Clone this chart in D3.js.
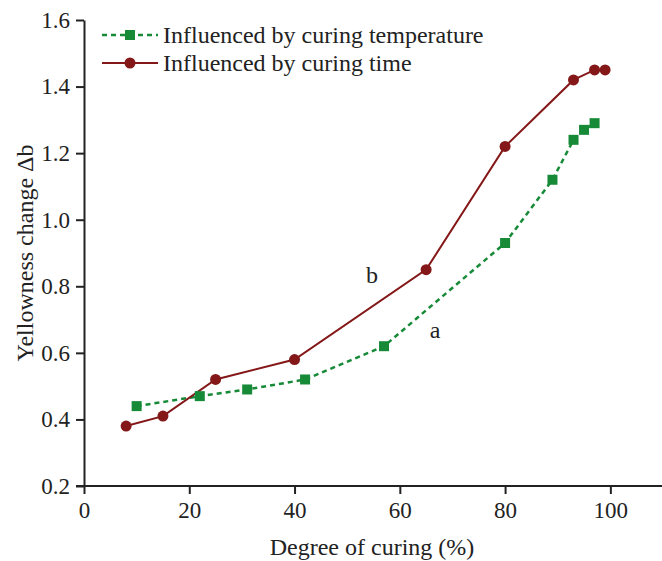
<!DOCTYPE html>
<html>
<head>
<meta charset="utf-8">
<script src="https://cdn.jsdelivr.net/npm/d3@7"></script>
<style>
  body { margin: 0; background: #fff; }
  svg text { font-family: "Liberation Serif", "Times New Roman", serif; fill: #222; }
</style>
</head>
<body>
<div id="container"></div>
<script>
/* CONSTANTS AND GLOBALS */
const width = 662;
const height = 561;
const serif = "'Liberation Serif', 'Times New Roman', serif";

/* DATA */
// Influenced by curing temperature (a)
const tempX = [10, 22, 31, 42, 57, 80, 89, 93, 95, 97];
const tempY = [0.44, 0.47, 0.49, 0.52, 0.62, 0.93, 1.12, 1.24, 1.27, 1.29];
// Influenced by curing time (b)
const timeX = [8, 15, 25, 40, 65, 80, 93, 97, 99];
const timeY = [0.38, 0.41, 0.52, 0.58, 0.85, 1.22, 1.42, 1.45, 1.45];

const xTicks = [0, 20, 40, 60, 80, 100];
const yTicks = [0.2, 0.4, 0.6, 0.8, 1.0, 1.2, 1.4, 1.6];
const seriesNames = ["Influenced by curing temperature", "Influenced by curing time"];

const green = "#178a38";
const red = "#841818";

const tempData = tempX.map((x, i) => ({x: x, y: tempY[i]}));
const timeData = timeX.map((x, i) => ({x: x, y: timeY[i]}));

/* SCALES */
const xScale = d3.scaleLinear()
  .domain([0, 110])
  .range([84, 663]);

const yScale = d3.scaleLinear()
  .domain([0.2, 1.6])
  .range([486, 20]);

/* SVG */
const svg = d3.select("#container")
  .append("svg")
  .attr("width", width)
  .attr("height", height);

// axes
const xAxisGroup = svg.append("g")
  .attr("transform", `translate(0,${yScale(0.2)})`)
  .call(d3.axisBottom(xScale).tickValues(xTicks).tickSize(8).tickPadding(8).tickSizeOuter(0));

const yAxisGroup = svg.append("g")
  .attr("transform", `translate(${xScale(0)},0)`)
  .call(d3.axisLeft(yScale).tickValues(yTicks).tickFormat(d3.format(".1f")).tickSize(8).tickPadding(6).tickSizeOuter(0));

[xAxisGroup, yAxisGroup].forEach(g => {
  g.attr("font-family", serif).attr("font-size", 23);
  g.select(".domain").attr("stroke", "#222").attr("stroke-width", 2);
  g.selectAll(".tick line").attr("stroke", "#222").attr("stroke-width", 2);
  g.selectAll(".tick text").attr("fill", "#222");
});
// extend x axis line left to meet the 0.2 tick
xAxisGroup.select(".domain").attr("d", `M${xScale(0) - 8},0H${xScale(110)}`);

// axis titles
svg.append("text")
  .attr("x", 372)
  .attr("y", 555)
  .attr("text-anchor", "middle")
  .style("font-size", "24px")
  .text("Degree of curing (%)");

svg.append("text")
  .attr("transform", `translate(25,253) rotate(-90)`)
  .attr("text-anchor", "middle")
  .attr("dy", "0.35em")
  .style("font-size", "24px")
  .text("Yellowness change Δb");

/* LINES */
const line = d3.line()
  .x(d => xScale(d.x))
  .y(d => yScale(d.y));

svg.append("path")
  .datum(tempData)
  .attr("d", line)
  .attr("fill", "none")
  .attr("stroke", green)
  .attr("stroke-width", 2.5)
  .attr("stroke-dasharray", "5,4");

svg.append("path")
  .datum(timeData)
  .attr("d", line)
  .attr("fill", "none")
  .attr("stroke", red)
  .attr("stroke-width", 2);

// markers
svg.selectAll("rect.temp")
  .data(tempData)
  .join("rect")
  .attr("class", "temp")
  .attr("x", d => xScale(d.x) - 5)
  .attr("y", d => yScale(d.y) - 5)
  .attr("width", 10)
  .attr("height", 10)
  .attr("fill", green);

svg.selectAll("circle.time")
  .data(timeData)
  .join("circle")
  .attr("class", "time")
  .attr("cx", d => xScale(d.x))
  .attr("cy", d => yScale(d.y))
  .attr("r", 5.5)
  .attr("fill", red);

/* CURVE LABELS */
svg.append("text").attr("x", 435).attr("y", 338).attr("text-anchor", "middle")
  .style("font-size", "24px").text("a");
svg.append("text").attr("x", 372).attr("y", 283).attr("text-anchor", "middle")
  .style("font-size", "24px").text("b");

/* LEGEND */
const legend = svg.append("g");
const rows = [
  {name: seriesNames[0], color: green, dash: "5,4", shape: "square", y: 35},
  {name: seriesNames[1], color: red, dash: null, shape: "circle", y: 63}
];
rows.forEach(r => {
  legend.append("line")
    .attr("x1", 102).attr("x2", 158)
    .attr("y1", r.y).attr("y2", r.y)
    .attr("stroke", r.color)
    .attr("stroke-width", r.shape === "square" ? 2.5 : 2)
    .attr("stroke-dasharray", r.dash);
  if (r.shape === "square") {
    legend.append("rect").attr("x", 125).attr("y", r.y - 5)
      .attr("width", 10).attr("height", 10).attr("fill", r.color);
  } else {
    legend.append("circle").attr("cx", 130).attr("cy", r.y).attr("r", 5.5).attr("fill", r.color);
  }
  legend.append("text")
    .attr("x", 163).attr("y", r.y)
    .attr("dy", "0.35em")
    .style("font-size", "24px")
    .text(r.name);
});
</script>
</body>
</html>
